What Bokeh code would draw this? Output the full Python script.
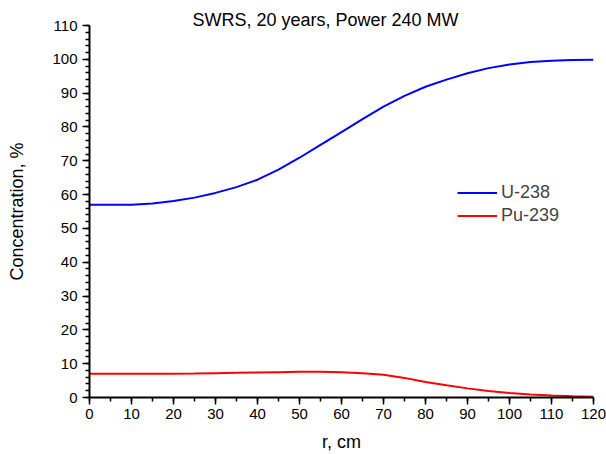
from bokeh.plotting import figure
from bokeh.models import Range1d, SingleIntervalTicker, Legend, LegendItem
from bokeh.embed import file_html
from bokeh.resources import INLINE

r_cm = [0, 5, 10, 15, 20, 25, 30, 35, 40, 45, 50, 55, 60, 65, 70, 75, 80, 85, 90, 95, 100, 105, 110, 115, 120]
u238 = [57.0, 57.0, 57.0, 57.4, 58.1, 59.1, 60.5, 62.2, 64.4, 67.4, 70.9, 74.7, 78.5, 82.3, 86.0, 89.2, 91.9, 94.0, 95.9, 97.4, 98.5, 99.2, 99.6, 99.8, 99.9]
pu239 = [7.0, 7.0, 7.0, 7.0, 7.05, 7.1, 7.2, 7.3, 7.4, 7.5, 7.6, 7.6, 7.5, 7.2, 6.7, 5.8, 4.6, 3.6, 2.7, 1.9, 1.3, 0.9, 0.6, 0.35, 0.2]

title_text = "SWRS, 20 years, Power 240 MW"
x_label = "r, cm"
y_label = "Concentration, %"
series_names = ["U-238", "Pu-239"]

FONT = "Liberation Sans"

p = figure(width=606, height=454, output_backend="svg", toolbar_location=None,
           x_range=Range1d(0, 120), y_range=Range1d(0, 110),
           min_border_left=89, min_border_right=13, min_border_top=25, min_border_bottom=56)

p.title.text = title_text
p.title.align = "left"
p.title.offset = 103
p.title.standoff = -9
p.title.text_font = FONT
p.title.text_font_size = "18px"
p.title.text_font_style = "normal"
p.title.text_color = "black"
try:
    p.title.padding = dict(top=5, right=0, bottom=0, left=0)
except Exception:
    pass

p.xgrid.visible = False
p.ygrid.visible = False
p.outline_line_color = None

l1 = p.line(r_cm, u238, line_color="#0000ff", line_width=2)
l2 = p.line(r_cm, pu239, line_color="#ff0000", line_width=2)

for ax in (p.xaxis[0], p.yaxis[0]):
    ax.axis_line_width = 2
    ax.axis_line_color = "black"
    ax.major_tick_line_color = "black"
    ax.minor_tick_line_color = "black"
    ax.major_tick_line_width = 1.5
    ax.minor_tick_line_width = 1.5
    ax.major_tick_in = 0
    ax.minor_tick_in = 0
    ax.major_tick_out = 7
    ax.minor_tick_out = 4
    ax.major_label_text_font = FONT
    ax.major_label_text_font_size = "15px"
    ax.major_label_text_color = "black"
    ax.axis_label_text_font = FONT
    ax.axis_label_text_font_size = "18px"
    ax.axis_label_text_font_style = "normal"
    ax.axis_label_text_color = "black"

p.xaxis[0].ticker = SingleIntervalTicker(interval=10, num_minor_ticks=2)
p.yaxis[0].ticker = SingleIntervalTicker(interval=10, num_minor_ticks=5)
p.xaxis[0].axis_label = x_label
p.yaxis[0].axis_label = y_label
p.xaxis[0].major_label_standoff = 4
p.yaxis[0].major_label_standoff = 5
p.xaxis[0].axis_label_standoff = 10
p.yaxis[0].axis_label_standoff = 22

legend = Legend(items=[LegendItem(label=series_names[0], renderers=[l1]),
                       LegendItem(label=series_names[1], renderers=[l2])],
                location=(368, 170))
legend.background_fill_alpha = 0
legend.border_line_color = None
legend.label_text_font = FONT
legend.label_text_font_size = "18px"
legend.glyph_width = 40
legend.glyph_height = 23
legend.label_height = 23
legend.spacing = 0
legend.padding = 0
legend.margin = 0
legend.label_standoff = 4
p.add_layout(legend, "center")

open("out.html", "w").write(file_html(p, INLINE))
